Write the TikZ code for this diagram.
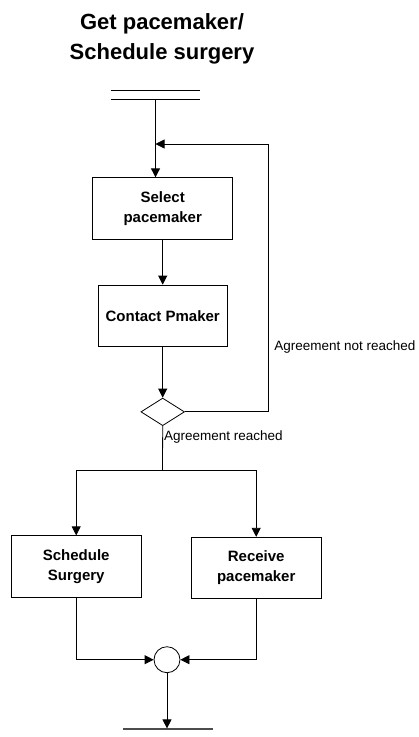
\documentclass[tikz,border=0pt]{standalone}
\usepackage{fontspec}
\setmainfont{Liberation Sans}
\usetikzlibrary{arrows.meta,positioning,shapes.geometric}

\begin{document}
\begin{tikzpicture}[x=1pt,y=-1pt,>={Triangle[length=9pt,width=9pt]},line width=0.8pt]
\tikzstyle{activity}=[draw,rectangle,minimum width=130pt,minimum height=61.5pt,inner sep=0pt,align=center,font=\fontsize{15}{20}\selectfont\bfseries]
\tikzstyle{decision}=[draw,diamond,minimum width=43.6pt,minimum height=27.6pt,inner sep=0pt]
\tikzstyle{merge}=[draw,circle,minimum size=26pt,inner sep=0pt]
\tikzstyle{bar}=[minimum width=89pt,inner sep=0pt]
\tikzstyle{guard}=[font=\fontsize{13.5}{16}\selectfont,inner sep=0pt,anchor=west]
\useasboundingbox (0,0) rectangle (419,737);
\node[font=\fontsize{22}{30}\selectfont\bfseries,align=center] (title) at (162,39) {Get pacemaker/\\Schedule surgery};
\node[bar,minimum height=8pt] (start) at (155.5,95) {};
\draw (start.north west) -- (start.north east) (start.south west) -- (start.south east);
\node[activity,minimum width=140pt] (sel) at (162.7,208.5) {Select\\pacemaker};
\node[activity,minimum width=129.6pt,below=45pt of sel] (cont) {Contact Pmaker};
\node[decision,below=50.7pt of cont] (dec) {};
\node[activity] (sched) at (76.2,566.5) {Schedule\\Surgery};
\node[activity] (recv) at (256.2,568) {Receive\\pacemaker};
\node[merge] (join) at (167,659.7) {};
\node[bar] (finish) at (168,729.3) {};
\draw[line width=1.8pt,gray!60!black] (finish.west) -- (finish.east);
\coordinate (loop) at (268.5,144);
\coordinate (fork) at (162.5,470);
\node[guard] (notreached) at (274,347) {Agreement not reached};
\node[guard] (reached) at (163.8,437) {Agreement reached};
% flow
\draw[->] (start.south) -- (start.south |- sel.north);
\draw[->] (sel) -- (cont);
\draw[->] (cont) -- (dec);
\draw[->] (dec.east) -| (loop) -- (start.south |- loop);
\draw (dec.south) -- (fork);
\draw[->] (fork) -| (sched.north);
\draw[->] (fork) -| (recv.north);
\draw[->] (sched.south) |- (join.west);
\draw[->] (recv.south) |- (join.east);
\draw[->] (join.south) -- (join.south |- finish.north);
\end{tikzpicture}
\end{document}
